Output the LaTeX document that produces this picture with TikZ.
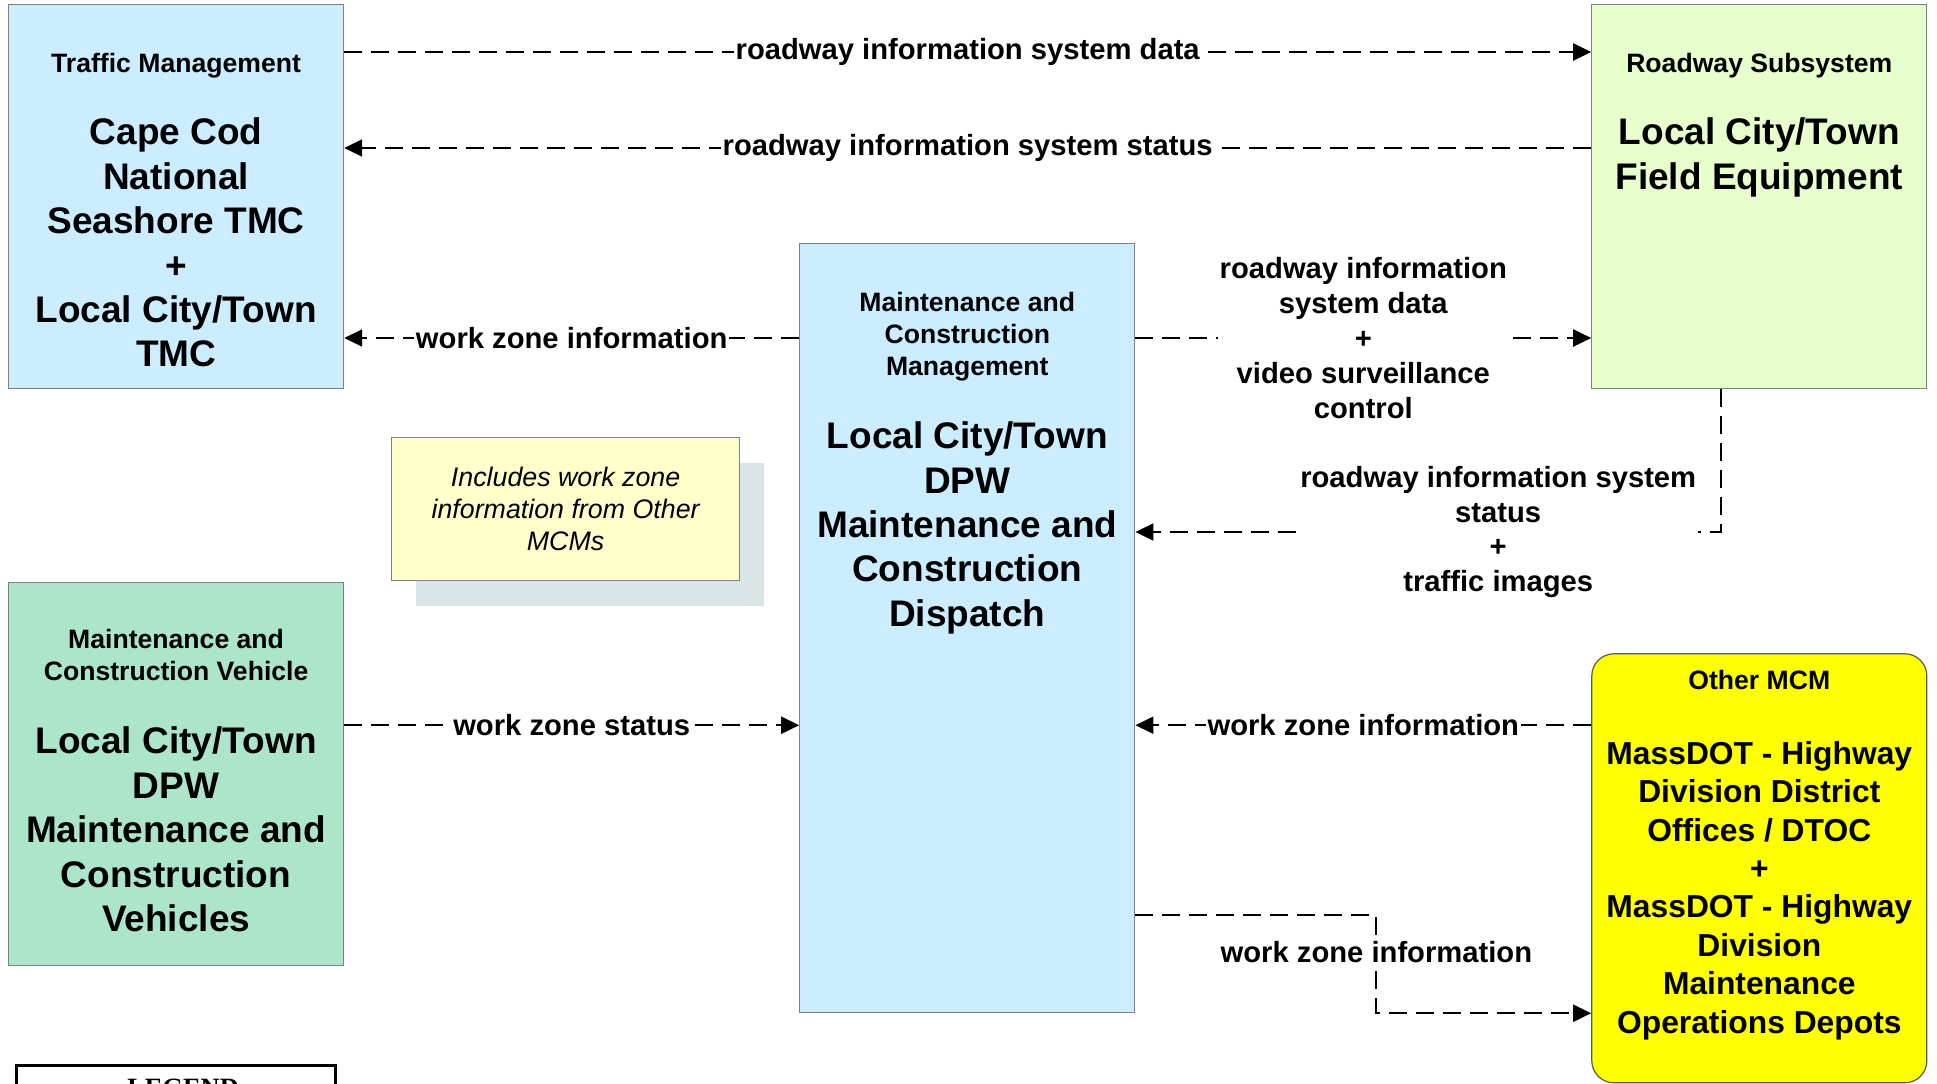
\documentclass[tikz,border=0pt]{standalone}
\usepackage{fontspec}
\setmainfont{Liberation Sans}
\newfontfamily\legendserif{Liberation Serif}
\usepackage{tikz}
\usetikzlibrary{arrows.meta,positioning,shadows}
\tikzset{every node/.append style={align=center}}
\definecolor{tmcblue}{HTML}{CCECFF}
\definecolor{fieldgreen}{HTML}{E6FFCC}
\definecolor{vehgreen}{HTML}{ADE5CB}
\definecolor{notecream}{HTML}{FFFFCC}
\definecolor{notegray}{HTML}{DAE5E8}
\definecolor{mcmyellow}{HTML}{FFFF00}
\definecolor{edgegray}{HTML}{808080}

\begin{document}
\begin{tikzpicture}[>={Triangle[length=9pt,width=8.5pt]},
  sysbox/.style={draw=edgegray, line width=0.6pt, minimum width=167.5pt, inner sep=0pt},
  headtxt/.style={inner sep=0pt, font=\fontsize{13.3}{16}\selectfont\bfseries},
  nametxt/.style={inner sep=0pt, font=\fontsize{18.5}{22.2}\selectfont\bfseries},
  flow/.style={->, line width=1pt, dash pattern=on 9pt off 4.5pt},
  lbl/.style={fill=white, inner sep=1pt, font=\fontsize{14.6}{17.4}\selectfont\bfseries}]
  \useasboundingbox (0,0) rectangle (968.5pt,-541.5pt);

  % boxes
  \node[sysbox, fill=tmcblue, minimum height=192pt, anchor=north west] (tm) at (4pt,-2pt) {};
  \node[sysbox, fill=fieldgreen, minimum height=192pt, right=623.5pt of tm] (rs) {};
  \node[sysbox, fill=tmcblue, minimum height=384.5pt, below right=119.5pt and 227.5pt of tm.north east] (mcm) {};
  \node[sysbox, fill=vehgreen, minimum height=191.5pt, below=96.5pt of tm] (mcv) {};
  \node[sysbox, draw=black!65, fill=mcmyellow, rounded corners=11pt, minimum height=214.5pt, below=132pt of rs] (omcm) {};
  \node[draw=edgegray, fill=notecream, minimum width=174pt, minimum height=71.5pt, inner sep=0pt,
        font=\fontsize{13.4}{16}\selectfont\itshape,
        drop shadow={shadow xshift=12pt, shadow yshift=-12.5pt, fill=notegray, opacity=1},
        below right=24pt and 23.5pt of tm.south east] (note) {Includes work zone\\information from Other\\MCMs};
  \node[draw=black, line width=1.2pt, minimum width=159.5pt, minimum height=60pt, below=49pt of mcv] (legend) {};
  \node[inner sep=0pt, font=\legendserif\fontsize{13.2}{15}\selectfont\bfseries, below=7pt of legend.north, xshift=3.5pt] (legendtxt) {LEGEND};

  % box texts
  \node[headtxt, below=24.2pt of tm.north] (tmhead) {Traffic Management};
  \node[nametxt, below=56.8pt of tm.north] (tmname) {Cape Cod\\National\\Seashore TMC\\+\\Local City/Town\\TMC};
  \node[headtxt, below=24.2pt of rs.north] (rshead) {Roadway Subsystem};
  \node[nametxt, below=56.8pt of rs.north] (rsname) {Local City/Town\\Field Equipment};
  \node[headtxt, below=24.4pt of mcm.north] (mcmhead) {Maintenance and\\Construction\\Management};
  \node[nametxt, below=89.2pt of mcm.north] (mcmname) {Local City/Town\\DPW\\Maintenance and\\Construction\\Dispatch};
  \node[headtxt, below=23.4pt of mcv.north] (mcvhead) {Maintenance and\\Construction Vehicle};
  \node[nametxt, below=72.2pt of mcv.north] (mcvname) {Local City/Town\\DPW\\Maintenance and\\Construction\\Vehicles};
  \node[headtxt, below=8.2pt of omcm.north] (omcmhead) {Other MCM};
  \node[nametxt, font=\fontsize{15.9}{19.2}\selectfont\bfseries, below=43.8pt of omcm.north] (omcmname)
    {MassDOT - Highway\\Division District\\Offices / DTOC\\+\\MassDOT - Highway\\Division\\Maintenance\\Operations Depots};

  % flows
  \coordinate (risdata) at ([yshift=-24pt]tm.north east);
  \draw[flow] (risdata) -- (risdata -| rs.west) node[midway, lbl] (risdatalbl) {roadway information system data};
  \coordinate (risstat) at ([yshift=-72pt]rs.north west);
  \draw[flow] (risstat) -- (risstat -| tm.east) node[midway, lbl] (risstatlbl) {roadway information system status};
  \coordinate (wzinfol) at ([yshift=-47.5pt]mcm.north west);
  \draw[flow] (wzinfol) -- (wzinfol -| tm.east) node[midway, lbl] (wzinfollbl) {work zone information};
  \coordinate (risvid) at ([yshift=-47.5pt]mcm.north east);
  \draw[flow] (risvid) -- (risvid -| rs.west) node[midway, lbl] (risvidlbl) {roadway information\\system data\\+\\video surveillance\\control};
  \coordinate (rsdrop) at ([xshift=-19.35pt]rs.south);
  \coordinate (risimg) at ([yshift=-144.5pt]mcm.north east);
  \draw[flow] (rsdrop) |- (risimg) node[pos=0.69, lbl] (risimglbl) {roadway information system\\status\\+\\traffic images};
  \coordinate (wzstat) at ([yshift=-71.5pt]mcv.north east);
  \draw[flow] (wzstat) -- (wzstat -| mcm.west) node[midway, lbl] (wzstatlbl) {work zone status};
  \coordinate (wzother) at ([yshift=-36pt]omcm.north west);
  \draw[flow] (wzother) -- (wzother -| mcm.east) node[midway, lbl] (wzotherlbl) {work zone information};
  \coordinate (wzout) at ([yshift=-336.2pt]mcm.north east);
  \coordinate (wzbend) at ([xshift=120.5pt]mcm.south east);
  \draw[flow] (wzout) -| node[pos=0.685, lbl] (wzoutlbl) {work zone information} (wzbend) -- (wzbend -| omcm.west);
\end{tikzpicture}
\end{document}
